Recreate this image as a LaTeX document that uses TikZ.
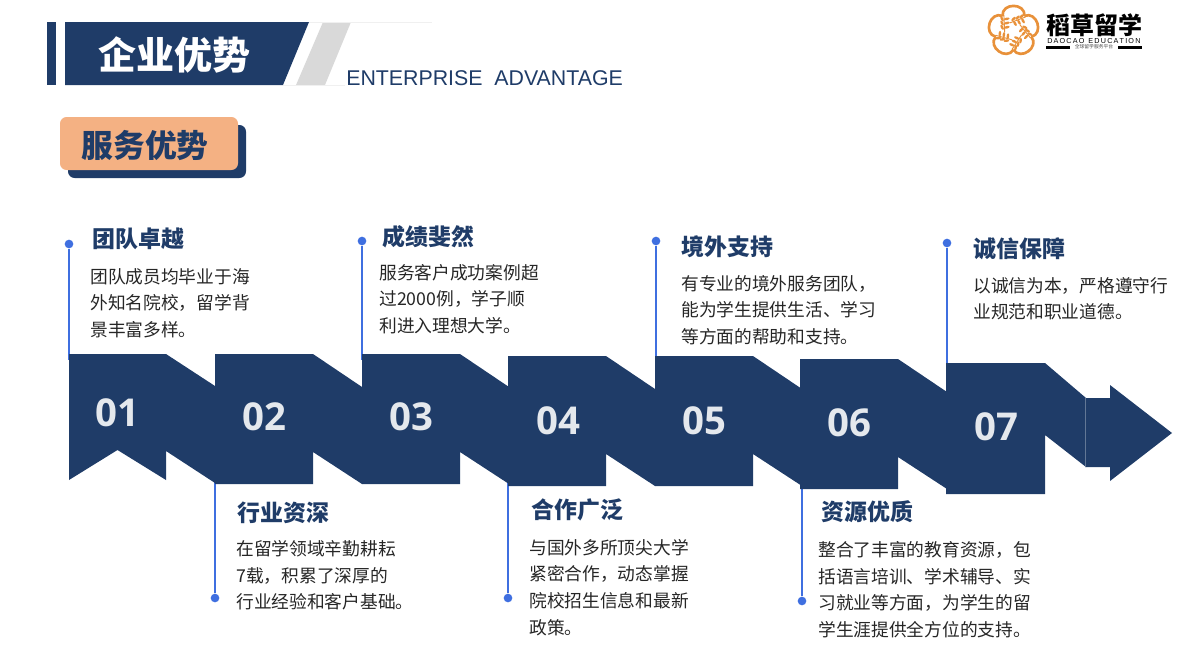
\documentclass[tikz,border=0pt]{standalone}
\usepackage{fontspec}
\setmainfont{Noto Sans CJK SC}
\newfontfamily\numfont{Open Sans}
\newfontfamily\enfont{Liberation Sans}
\definecolor{navy}{HTML}{1F3C68}
\definecolor{peach}{HTML}{F4B183}
\definecolor{stemblue}{HTML}{3F6FE0}
\definecolor{wheat}{HTML}{E8913A}
\tikzset{
  chevron/.style={fill=navy},
  numlabel/.style={text=white!88!navy, font=\numfont\bfseries\fontsize{28.8}{30}\selectfont},
  headlabel/.style={anchor=west, inner sep=0pt, text=navy, font=\bfseries\fontsize{17.2}{20}\selectfont},
  bodylabel/.style={anchor=north west, inner sep=0pt, align=left, text=black!85, font=\fontsize{13.3}{20}\selectfont},
  dotmark/.style={circle, fill=stemblue, inner sep=0pt, minimum size=6.5pt},
  stem/.style={stemblue, line width=0.8pt},
  logoline/.style={wheat, line width=2pt}
}
\begin{document}
\begin{tikzpicture}[x=0.75pt, y=-0.75pt]
\useasboundingbox (0,0) rectangle (1201,646);

\fill[navy] (47,22) rectangle (56,85);
\fill[navy] (65,22) -- (309,22) -- (283,85) -- (65,85) -- cycle;
\fill[black!15] (323,22) -- (351,22) -- (325,85) -- (296,85) -- cycle;
\draw[black!6, line width=0.5pt] (309,22) -- (432,22);
\draw[black!6, line width=0.5pt] (283,85) -- (345,85);
\node (pagetitle) at (174,55) {\textcolor{white}{\bfseries\fontsize{28.5}{30}\selectfont 企业优势}};
\node[anchor=west, inner sep=0pt, text=navy] (pagesub) at (346,78) {\enfont\fontsize{16}{18}\selectfont ENTERPRISE\ \ ADVANTAGE};

\fill[navy, rounded corners=5pt] (68,125) rectangle (246,178);
\fill[peach, rounded corners=5pt] (60,117) rectangle (238,170);
\node[text=navy] (badge) at (145,145) {\bfseries\fontsize{23.8}{26}\selectfont 服务优势};

\foreach \a in {0,72,144,216,288}{
  \begin{scope}[shift={(1013.5,31)}, rotate=\a]
    \draw[logoline] (-11,-15) .. controls (-12,-28.5) and (12,-28.5) .. (11,-15);
    \draw[wheat, line width=0.7pt] (-4,-8) -- (12,-14);
    \foreach \s in {0,4,8}{
      \fill[wheat, rotate around={45:({\s},{-12-\s/3})}] ({\s},{-12-\s/3}) ellipse [x radius=2.8, y radius=1.3];
      \fill[wheat, rotate around={-60:({\s+1.5},{-7.5-\s/3})}] ({\s+1.5},{-7.5-\s/3}) ellipse [x radius=2.8, y radius=1.3];
    }
  \end{scope}
}
\node[anchor=west, inner sep=0pt] (logotext) at (1046,25) {\bfseries\fontsize{18}{20}\selectfont 稻草留学};
\node[anchor=west, inner sep=0pt] (logosub) at (1047,41) {\enfont\fontsize{5.4}{6}\selectfont D\,A\,O\,C\,A\,O\ \ E\,D\,U\,C\,A\,T\,I\,O\,N};
\fill[black] (1046,46) rectangle (1070,48.5);
\fill[black] (1118,46) rectangle (1142,48.5);
\node[inner sep=0pt, text=black!70] (logonote) at (1094,47) {\fontsize{3.6}{4}\selectfont 全球留学服务平台};

\node[dotmark] (dot1) at (69,244) {};
\node[dotmark] (dot2) at (215,598) {};
\node[dotmark] (dot3) at (362,241) {};
\node[dotmark] (dot4) at (508,598) {};
\node[dotmark] (dot5) at (656,241) {};
\node[dotmark] (dot6) at (802,601) {};
\node[dotmark] (dot7) at (947,243) {};
\coordinate (end1) at (69,360);
\coordinate (end2) at (215,480);
\coordinate (end3) at (362,360);
\coordinate (end4) at (508,480);
\coordinate (end5) at (656,360);
\coordinate (end6) at (802,485);
\coordinate (end7) at (947,368);
\foreach \n in {1,...,7}{
  \draw[stem] (dot\n) -- (end\n);
}

\fill[chevron] (69,354) -- (166,354) -- (215,386) -- (215,483) -- (166,451) -- (166,480) -- (117.5,450) -- (69,480) -- cycle;
\foreach \x/\t/\b in {215/354/484, 362/354/484, 508/356/486, 655/356/486, 800/359/489}{
  \fill[chevron] (\x,\t) -- ({\x+98},\t) -- ({\x+147},{\t+33}) -- ({\x+147},\b) -- ({\x+98},{\b-32}) -- ({\x+98},\b) -- (\x,\b) -- cycle;
}
\fill[chevron] (946,363) -- (1045,363) -- (1086,398) -- (1086,467) -- (1045,435) -- (1045,494) -- (946,494) -- cycle;
\fill[chevron] (1085,398) -- (1110,398) -- (1110,385) -- (1172,433) -- (1110,481) -- (1110,467) -- (1085,467) -- cycle;
\draw[navy!70!white, line width=0.5pt] (1085.5,398) -- (1085.5,467);

\node[numlabel] (n1) at (117,413) {01};
\node[numlabel] (n2) at (264,417) {02};
\node[numlabel] (n3) at (411,417) {03};
\node[numlabel] (n4) at (558,421) {04};
\node[numlabel] (n5) at (704,421) {05};
\node[numlabel] (n6) at (849,423) {06};
\node[numlabel] (n7) at (996,427) {07};

\node[headlabel] (head1) at (92,239) {团队卓越};
\node[headlabel] (head2) at (237,513) {行业资深};
\node[headlabel] (head3) at (382,237) {成绩斐然};
\node[headlabel] (head4) at (531,510) {合作广泛};
\node[headlabel] (head5) at (681,247) {境外支持};
\node[headlabel] (head6) at (821,512) {资源优质};
\node[headlabel] (head7) at (973,249) {诚信保障};

\node[bodylabel] (body1) at (90,268) {团队成员均毕业于海\\外知名院校，留学背\\景丰富多样。};
\node[bodylabel] (body2) at (236,540) {在留学领域辛勤耕耘\\7载，积累了深厚的\\行业经验和客户基础。};
\node[bodylabel] (body3) at (379,264) {服务客户成功案例超\\过2000例，学子顺\\利进入理想大学。};
\node[bodylabel] (body4) at (529,539) {与国外多所顶尖大学\\紧密合作，动态掌握\\院校招生信息和最新\\政策。};
\node[bodylabel] (body5) at (681,275) {有专业的境外服务团队，\\能为学生提供生活、学习\\等方面的帮助和支持。};
\node[bodylabel] (body6) at (818,541) {整合了丰富的教育资源，包\\括语言培训、学术辅导、实\\习就业等方面，为学生的留\\学生涯提供全方位的支持。};
\node[bodylabel] (body7) at (973,277) {以诚信为本，严格遵守行\\业规范和职业道德。};
\end{tikzpicture}
\end{document}
